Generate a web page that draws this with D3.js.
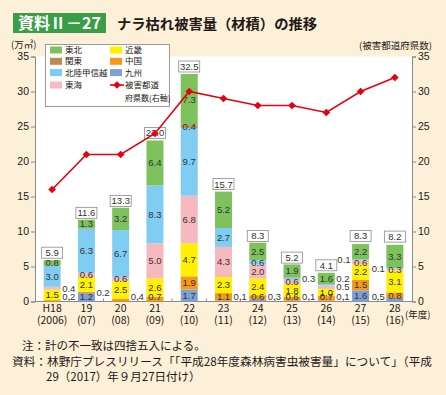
<!DOCTYPE html>
<html>
<head>
<meta charset="utf-8">
<script src="https://cdn.jsdelivr.net/npm/d3@7"></script>
<style>
body { margin: 0; background: #fdf0d8; }
svg { display: block; font-family: "Noto Sans CJK JP", sans-serif; }
</style>
</head>
<body>
<script>
var width = 446,
    height = 395;

// data (万m3)
var years = ["H18", "19", "20", "21", "22", "23", "24", "25", "26", "27", "28"];
var yearsAD = ["(2006)", "(07)", "(08)", "(09)", "(10)", "(11)", "(12)", "(13)", "(14)", "(15)", "(16)"];
var kyushu   = [0,   1.2, 0,   0,   1.7, 0.1, 0.3, 0.1, 0.1, 1.6, 0.5];
var chugoku  = [0.2, 0.2, 0.4, 0.7, 1.9, 1.1, 0.6, 0.6, 0.7, 1.5, 0.8];
var kinki    = [1.5, 2.1, 2.5, 2.6, 4.7, 2.3, 2.4, 1.8, 1.0, 2.2, 3.1];
var tokai    = [0.4, 0.6, 0.6, 5.0, 6.8, 4.3, 2.0, 0.6, 0.5, 0.6, 0.3];
var hokuriku = [3.0, 6.3, 6.7, 8.3, 9.7, 2.7, 0.6, 0.3, 0.2, 0.1, 0.1];
var kanto    = [0,   0,   0,   0,   0.4, 0,   0,   0,   0,   0,   0];
var tohoku   = [0.8, 1.3, 3.2, 6.4, 7.3, 5.2, 2.5, 1.9, 1.6, 2.2, 3.3];
var totals   = [5.9, 11.6, 13.3, 23.0, 32.5, 15.7, 8.3, 5.2, 4.1, 8.3, 8.2];
var prefs    = [16, 21, 21, 24, 30, 29, 28, 28, 27, 30, 32];
var yTicks = [0, 5, 10, 15, 20, 25, 30, 35];

// stacking order, bottom to top
var keys = ["九州", "中国", "近畿", "東海", "北陸甲信越", "関東", "東北"];
var series = {"九州": kyushu, "中国": chugoku, "近畿": kinki, "東海": tokai,
              "北陸甲信越": hokuriku, "関東": kanto, "東北": tohoku};
var colors = {"東北": "#7dc25c", "近畿": "#fff100", "関東": "#b98c55", "中国": "#f39a1c",
              "北陸甲信越": "#80cdf3", "九州": "#7f9fd7", "東海": "#f5b9bf"};
var lineColor = "#e60012";

var rows = years.map(function(yr, i) {
    var r = {year: yr};
    keys.forEach(function(k) { r[k] = series[k][i]; });
    return r;
});

var svg = d3.select("body").append("svg")
    .attr("width", width)
    .attr("height", height);

var pLeft = 35, pRight = 412, pTop = 56.5, pBottom = 301.5;

var x = d3.scaleBand().domain(years).range([pLeft, pRight]);
var y = d3.scaleLinear().domain([0, 35]).range([pBottom, pTop]);
var y2 = d3.scaleLinear().domain([0, 35]).range([pBottom, pTop]);
var barW = 17;
var numFont = "'Liberation Sans', sans-serif";

// header
svg.append("rect").attr("x", 13).attr("y", 13).attr("width", 93).attr("height", 20).attr("fill", "#3b9d48");
svg.append("text").attr("x", 59.5).attr("y", 28.5).attr("text-anchor", "middle")
    .attr("fill", "#fff").style("font-size", "16px").style("font-weight", "bold")
    .text("資料Ⅱ－27");
svg.append("text").attr("x", 117).attr("y", 28.5).attr("fill", "#231815")
    .style("font-size", "14px").style("font-weight", "bold")
    .attr("textLength", 200).attr("lengthAdjust", "spacingAndGlyphs")
    .text("ナラ枯れ被害量（材積）の推移");

// plot area
svg.append("rect").attr("x", pLeft).attr("y", pTop).attr("width", pRight - pLeft).attr("height", pBottom - pTop).attr("fill", "#fff");

// axes
var gl = svg.append("g").attr("transform", "translate(" + pLeft + ",0)")
    .call(d3.axisLeft(y).tickValues(yTicks).tickSize(4).tickPadding(2));
var gr = svg.append("g").attr("transform", "translate(" + pRight + ",0)")
    .call(d3.axisRight(y2).tickValues(yTicks).tickSize(4).tickPadding(2));
[gl, gr].forEach(function(g) {
    g.select(".domain").attr("stroke", "#8a8a8a");
    g.selectAll(".tick line").attr("stroke", "#8a8a8a");
    g.selectAll(".tick text").attr("fill", "#231815").style("font-size", "10.5px")
        .style("font-family", numFont);
});

svg.append("line").attr("x1", pLeft).attr("x2", pRight).attr("y1", pBottom).attr("y2", pBottom).attr("stroke", "#8a8a8a");
svg.selectAll(".xtick").data(years.slice(1)).enter().append("line")
    .attr("x1", function(d) { return x(d); }).attr("x2", function(d) { return x(d); })
    .attr("y1", pBottom).attr("y2", pBottom - 3).attr("stroke", "#8a8a8a");

var xl = svg.selectAll(".xl").data(years).enter().append("text")
    .attr("text-anchor", "middle").attr("fill", "#231815").style("font-size", "10.5px")
    .attr("x", function(d) { return x(d) + x.bandwidth() / 2; });
xl.append("tspan").attr("y", 312).text(function(d) { return d; });
xl.append("tspan").attr("y", 324)
    .attr("x", function(d) { return x(d) + x.bandwidth() / 2; })
    .text(function(d, i) { return yearsAD[i]; });
svg.append("text").attr("x", 405).attr("y", 318).style("font-size", "9.5px").attr("fill", "#231815").text("(年度)");

svg.append("text").attr("x", 11).attr("y", 48).style("font-size", "9.5px").attr("fill", "#231815").text("(万㎥)");
svg.append("text").attr("x", 432).attr("y", 48.5).attr("text-anchor", "end").style("font-size", "9.5px").attr("fill", "#231815").text("(被害都道府県数)");

// bars
var stack = d3.stack().keys(keys)(rows);
var cx = function(d) { return x(d.data.year) + x.bandwidth() / 2; };

svg.append("g").selectAll("g").data(stack).enter().append("g")
    .attr("fill", function(s) { return colors[s.key]; })
    .selectAll("rect").data(function(s) { return s; }).enter().append("rect")
    .attr("x", function(d) { return cx(d) - barW / 2; })
    .attr("width", barW)
    .attr("y", function(d) { return y(d[1]); })
    .attr("height", function(d) { return y(d[0]) - y(d[1]); });

// segment labels: inside for big ones, beside the bar for small ones
var insideSmall = {"22|関東": 1, "28|東海": 1};
var inside = [], beside = [];
years.forEach(function(yr, i) {
    var prev = 999;
    stack.forEach(function(s) {
        var d = s[i], v = series[s.key][i];
        if (v <= 0) return;
        var mid = y((d[0] + d[1]) / 2);
        var lab = {x: cx(d), v: v};
        if (v >= 0.6 || insideSmall[yr + "|" + s.key]) {
            lab.y = Math.min(mid, 296.5);
            inside.push(lab);
        } else {
            lab.y = Math.min(mid, 297, prev - 8.5);
            prev = lab.y;
            lab.left = i >= 9;
            beside.push(lab);
        }
    });
});

svg.selectAll(".in").data(inside).enter().append("text")
    .attr("x", function(d) { return d.x; }).attr("y", function(d) { return d.y; })
    .attr("dy", "0.35em").attr("text-anchor", "middle")
    .attr("fill", "#333").style("font-size", "9.5px")
    .style("font-family", numFont)
    .text(function(d) { return d3.format(".1f")(d.v); });

svg.selectAll(".out").data(beside).enter().append("text")
    .attr("x", function(d) { return d.left ? d.x - barW / 2 - 1.5 : d.x + barW / 2 + 1.5; })
    .attr("y", function(d) { return d.y; })
    .attr("dy", "0.35em").attr("text-anchor", function(d) { return d.left ? "end" : "start"; })
    .attr("fill", "#333").style("font-size", "9.5px")
    .style("font-family", numFont)
    .text(function(d) { return d3.format(".1f")(d.v); });

// totals in boxes
var tot = svg.selectAll(".tot").data(totals).enter().append("g")
    .attr("transform", function(d, i) { return "translate(" + (x(years[i]) + x.bandwidth() / 2) + "," + (y(d) - 7.5) + ")"; });
tot.append("rect").attr("x", -10.5).attr("y", -5.5).attr("width", 21).attr("height", 11)
    .attr("fill", "#fff").attr("stroke", "#8a8a8a").attr("stroke-width", 0.8);
tot.append("text").attr("text-anchor", "middle").attr("dy", "0.36em")
    .attr("fill", "#333").style("font-size", "9.5px")
    .style("font-family", numFont)
    .text(function(d) { return d3.format(".1f")(d); });

// prefecture count line
var line = d3.line()
    .x(function(d, i) { return x(years[i]) + x.bandwidth() / 2; })
    .y(function(d) { return y2(d); });
svg.append("path").datum(prefs).attr("d", line).attr("fill", "none")
    .attr("stroke", lineColor).attr("stroke-width", 1.6);
var diamond = d3.symbol().type(d3.symbolSquare).size(30);
svg.selectAll(".pt").data(prefs).enter().append("path")
    .attr("d", diamond).attr("fill", lineColor)
    .attr("transform", function(d, i) { return "translate(" + (x(years[i]) + x.bandwidth() / 2) + "," + y2(d) + ") rotate(45)"; });

// legend
var lg = svg.append("g");
lg.append("rect").attr("x", 45.5).attr("y", 44.5).attr("width", 124).attr("height", 62)
    .attr("fill", "#fff").attr("stroke", "#9a9a9a");
var legendItems = ["東北", "近畿", "関東", "中国", "北陸甲信越", "九州", "東海"];
var li = lg.selectAll(".li").data(legendItems).enter().append("g")
    .attr("transform", function(d, i) { return "translate(" + (i % 2 ? 110 : 50) + "," + [50, 61.3, 72.6, 85][Math.floor(i / 2)] + ")"; });
li.append("rect").attr("x", 0).attr("y", -3.5).attr("width", 12).attr("height", 7)
    .attr("fill", function(d) { return colors[d]; });
li.append("text").attr("x", 15).attr("dy", "0.35em").style("font-size", "8.5px").attr("fill", "#231815")
    .text(function(d) { return d; });
var ll = lg.append("g").attr("transform", "translate(110,85)");
ll.append("line").attr("x1", 0).attr("x2", 14).attr("stroke", lineColor).attr("stroke-width", 1.6);
ll.append("path").attr("d", diamond).attr("fill", lineColor).attr("transform", "translate(7,0) rotate(45)");
ll.append("text").attr("x", 15).attr("dy", "0.35em").style("font-size", "8.5px").attr("fill", "#231815").text("被害都道");
ll.append("text").attr("x", 15).attr("y", 12.7).attr("dy", "0.35em").style("font-size", "8px").attr("fill", "#231815").text("府県数(右軸)");

// notes
var notes = svg.append("g").style("font-size", "11.5px").attr("fill", "#231815");
notes.append("text").attr("x", 22).attr("y", 350).text("注：計の不一致は四捨五入による。");
notes.append("text").attr("x", 12).attr("y", 366).attr("textLength", 420).attr("lengthAdjust", "spacingAndGlyphs")
    .text("資料：林野庁プレスリリース「「平成28年度森林病害虫被害量」について」（平成");
notes.append("text").attr("x", 46).attr("y", 381).text("29（2017）年９月27日付け）");
</script>
</body>
</html>
